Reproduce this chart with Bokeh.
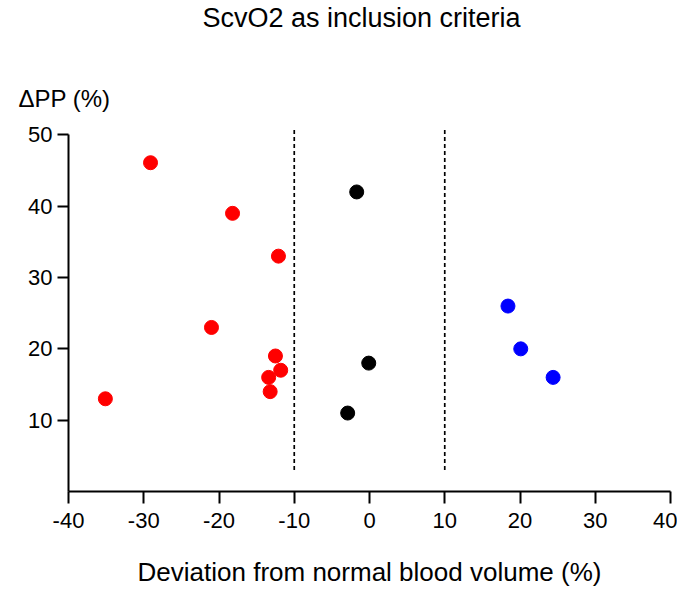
from bokeh.plotting import figure
from bokeh.models import Range1d, FixedTicker, Title
from bokeh.embed import file_html
from bokeh.resources import INLINE

# Data
red_x = [-29.1, -18.2, -12.1, -21.0, -12.5, -11.8, -13.4, -13.2, -35.1]
red_y = [46.1, 39.0, 33.0, 23.0, 19.0, 17.0, 16.0, 14.0, 13.0]
black_x = [-1.7, -0.1, -2.9]
black_y = [42.0, 18.0, 11.0]
blue_x = [18.4, 20.1, 24.4]
blue_y = [26.0, 20.0, 16.0]
cutoffs = [-10, 10]
x_ticks = [-40, -30, -20, -10, 0, 10, 20, 30, 40]
y_ticks = [10, 20, 30, 40, 50]

FONT = "Liberation Sans"

p = figure(frame_width=602, frame_height=378,
           x_range=Range1d(-40, 40), y_range=Range1d(0, 53),
           output_backend="svg", toolbar_location=None,
           min_border_left=68, min_border_right=7,
           min_border_top=113, min_border_bottom=90)
p.outline_line_color = None
p.xgrid.visible = False
p.ygrid.visible = False
p.background_fill_color = "white"
p.border_fill_color = "white"

# dashed cut-off lines
p.segment(x0=cutoffs, x1=cutoffs, y0=[3, 3], y1=[51, 51],
          line_color="black", line_width=1.7, line_dash="4 3")

p.scatter(red_x, red_y, size=14, color="#ff0000", line_color="#ff0000")
p.scatter(black_x, black_y, size=14, color="black", line_color="black")
p.scatter(blue_x, blue_y, size=14, color="#0000ff", line_color="#0000ff")

for ax in (p.xaxis[0], p.yaxis[0]):
    ax.axis_line_width = 2
    ax.axis_line_color = "black"
    ax.major_tick_line_width = 2
    ax.major_tick_line_color = "black"
    ax.minor_tick_line_color = None
    ax.major_tick_in = 0
    ax.major_label_text_font = FONT
    ax.major_label_text_font_size = "22px"
    ax.major_label_text_color = "black"

p.xaxis.ticker = FixedTicker(ticks=x_ticks)
p.yaxis.ticker = FixedTicker(ticks=y_ticks)
p.xaxis.major_label_overrides = {t: str(t) for t in x_ticks}
p.yaxis.major_label_overrides = {t: str(t) for t in y_ticks}
p.xaxis.bounds = (-40, 40)
p.yaxis.bounds = (0, 50)
p.xaxis.major_tick_out = 12
p.yaxis.major_tick_out = 11
p.xaxis.major_label_standoff = 9
p.yaxis.major_label_standoff = 5

p.xaxis.axis_label = "Deviation from normal blood volume (%)"
p.xaxis.axis_label_text_font = FONT
p.xaxis.axis_label_text_font_size = "26px"
p.xaxis.axis_label_text_font_style = "normal"
p.xaxis.axis_label_text_color = "black"
p.xaxis.axis_label_standoff = 26

ylab = Title(text="ΔPP (%)", align="left", offset=-50,
             text_font=FONT, text_font_size="24px",
             text_font_style="normal", text_color="black", standoff=3)
p.add_layout(ylab, "above")

# empty spacer between the y label and the main title
spacer = Title(text=" ", text_font_size="1px", standoff=45)
p.add_layout(spacer, "above")

p.title.text = "ScvO2 as inclusion criteria"
p.title.align = "left"
p.title.offset = 134
p.title.text_font = FONT
p.title.text_font_size = "27px"
p.title.text_font_style = "normal"
p.title.text_color = "black"
p.title.standoff = 1

open("out.html", "w").write(file_html(p, INLINE))
